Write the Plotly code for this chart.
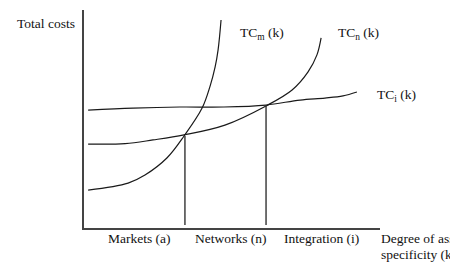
import plotly.graph_objects as go

# Asset specificity k (x) and total cost (y) readings
tcm_k = [0.14, 1.49, 2.06, 2.80, 3.38, 3.99, 4.26, 4.43, 4.53, 4.63]
tcm_c = [1.74, 2.06, 2.43, 3.21, 4.22, 5.50, 6.51, 7.39, 8.17, 9.54]

tcn_k = [0.14, 1.39, 2.33, 3.38, 4.76, 6.15, 7.03, 7.57, 7.87, 8.01]
tcn_c = [3.85, 3.87, 4.04, 4.27, 4.72, 5.60, 6.33, 7.16, 7.94, 8.72]

tci_k = [0.14, 1.66, 3.24, 4.73, 6.15, 7.30, 8.14, 8.75, 9.22]
tci_c = [5.41, 5.50, 5.55, 5.55, 5.64, 5.87, 5.96, 6.06, 6.24]

# switch points (k*, cost at crossing)
switch_k = [3.41, 6.15]
switch_c = [4.22, 5.62]

regions = ["Markets (a)", "Networks (n)", "Integration (i)"]
region_k = [1.86, 4.97, 8.04]

K_MAX, C_MAX = 10.0, 10.0
FONT = "Liberation Serif"
FS = 13.5
fig = go.Figure()
line = dict(color="#1a1a1a", width=1.2, shape="spline", smoothing=1.0)
for kx, cy in [(tcm_k, tcm_c), (tcn_k, tcn_c), (tci_k, tci_c)]:
    fig.add_trace(go.Scatter(x=kx, y=cy, mode="lines", line=line,
                             hoverinfo="skip", showlegend=False))
for sk, sc in zip(switch_k, switch_c):
    fig.add_trace(go.Scatter(x=[sk, sk], y=[0.14, sc], mode="lines",
                             line=dict(color="#333", width=1.4),
                             hoverinfo="skip", showlegend=False))

ann = []
def txt(k, c, t, xa="center", ya="middle", align="left"):
    ann.append(dict(x=k / K_MAX, y=c / C_MAX, xref="paper", yref="paper", text=t,
                    showarrow=False, xanchor=xa, yanchor=ya, align=align,
                    font=dict(family=FONT, size=FS, color="#111")))

txt(-0.24, 9.36, "Total costs", xa="right")
txt(6.01, 8.94, "TC<sub>m</sub> (k)")
txt(9.29, 8.94, "TC<sub>n</sub> (k)")
txt(9.83, 6.06, "TC<sub>i</sub> (k)", xa="left")
for r, k in zip(regions, region_k):
    txt(k, -0.46, r)
txt(9.97, -0.46, "Degree of asset", xa="left")
txt(9.97, -1.22, "specificity (k)", xa="left")

fig.update_layout(
    width=450, height=275,
    margin=dict(l=84, r=70, t=10, b=47),
    paper_bgcolor="white", plot_bgcolor="white",
    annotations=ann,
    xaxis=dict(range=[0, K_MAX], showgrid=False, zeroline=False, showticklabels=False,
               ticks="", showline=True, linecolor="#444", linewidth=1.5),
    yaxis=dict(range=[0, C_MAX], showgrid=False, zeroline=False, showticklabels=False,
               ticks="", showline=True, linecolor="#444", linewidth=1.5),
)
fig.write_html("out.html")
